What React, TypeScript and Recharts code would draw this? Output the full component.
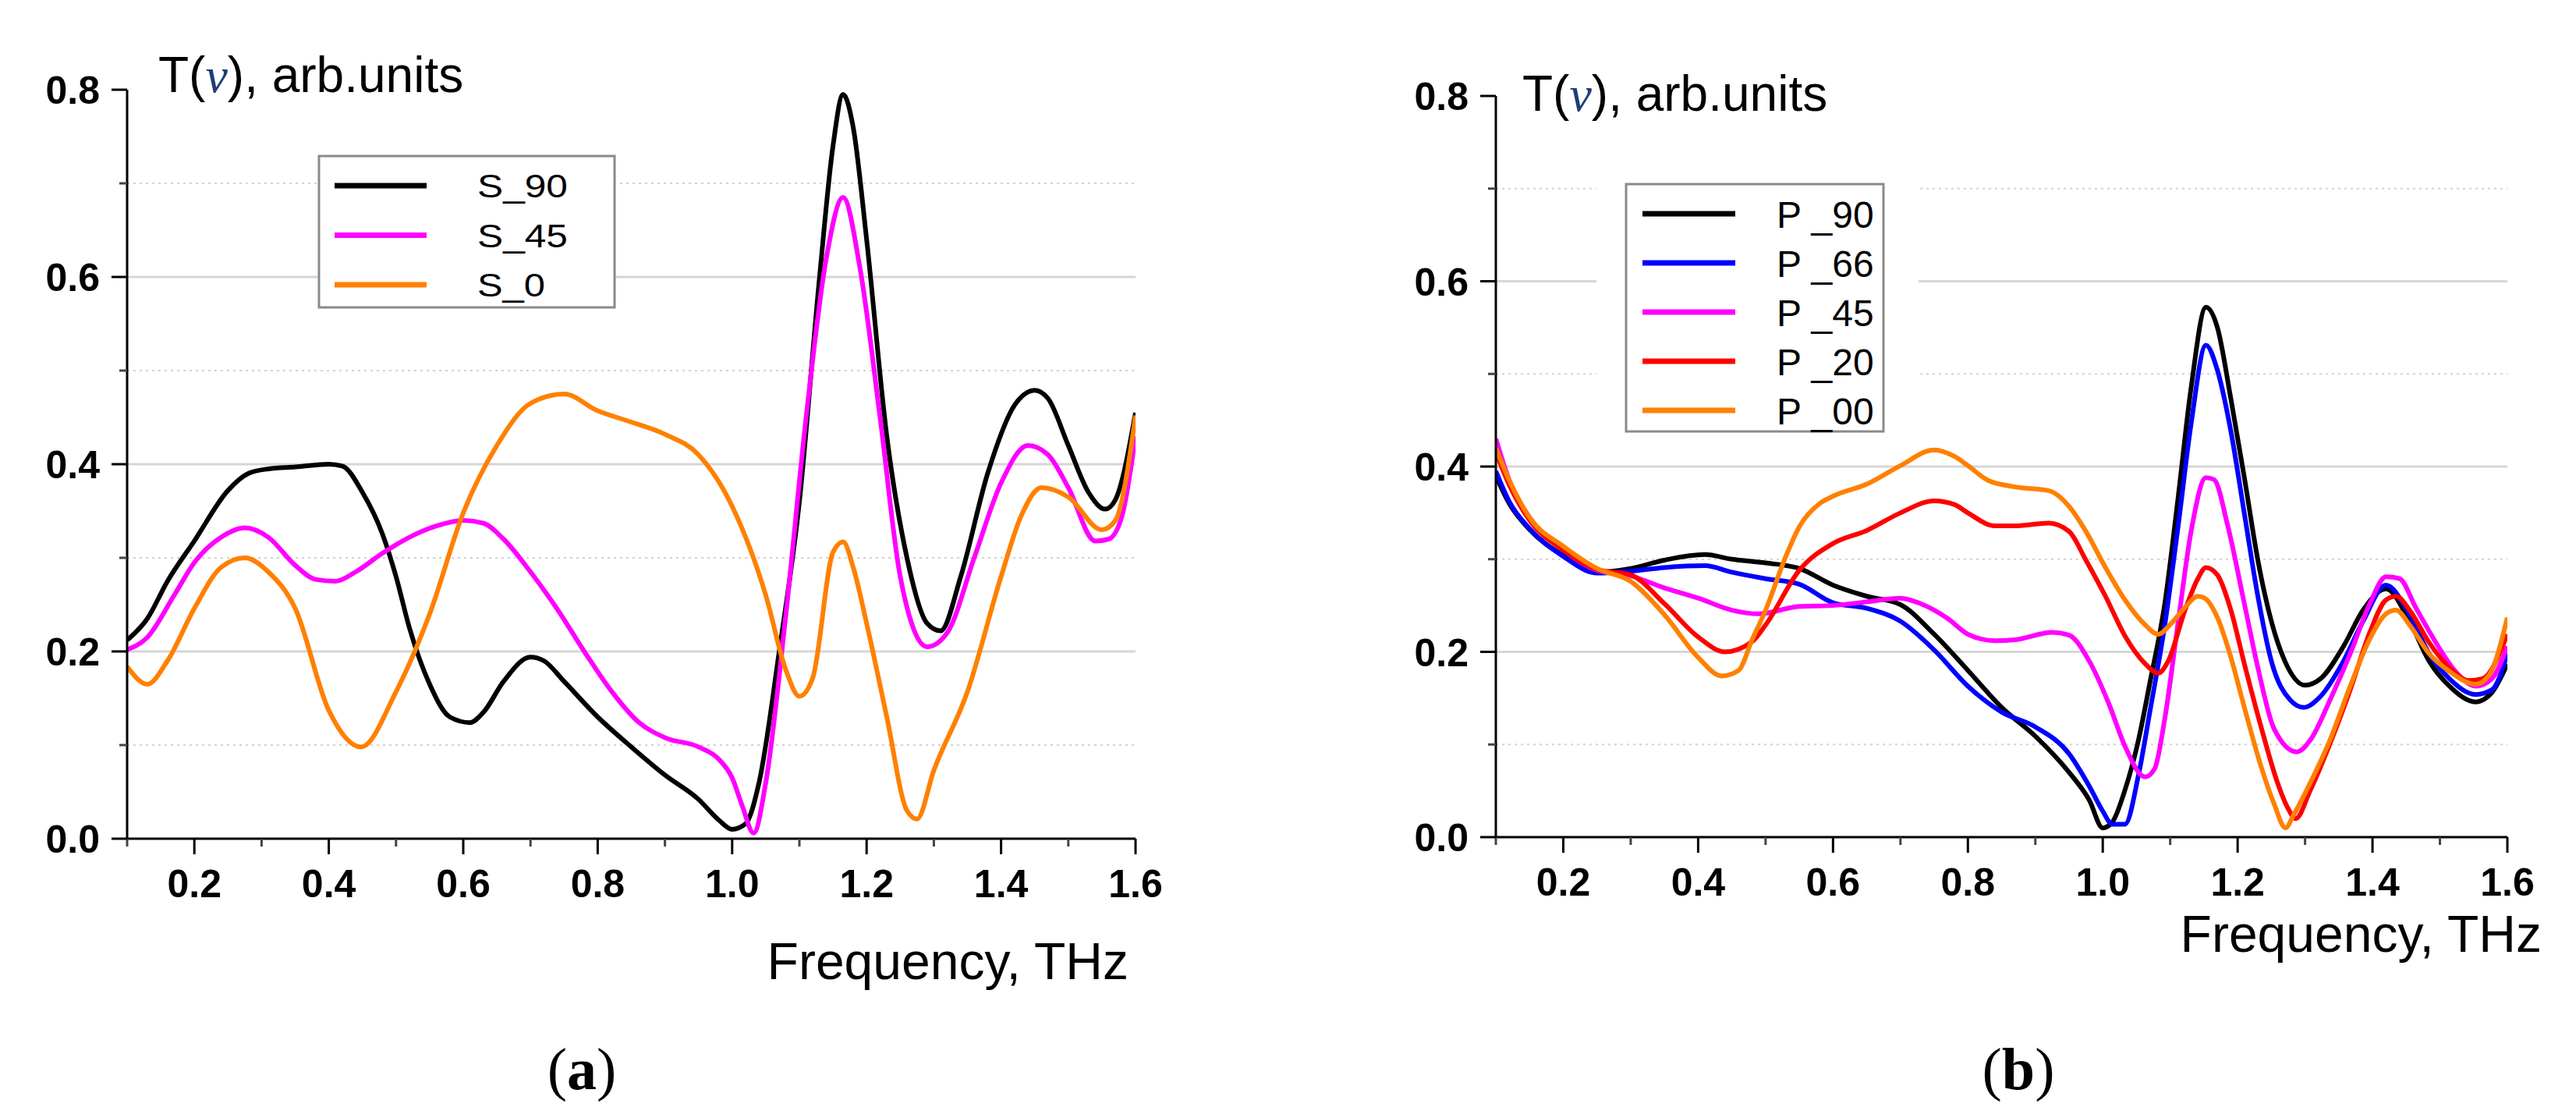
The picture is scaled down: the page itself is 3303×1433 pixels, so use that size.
import React from "react";
import { LineChart, Line, XAxis, YAxis, CartesianGrid } from "recharts";

// axis ticks (both panels)
const xTicks = [0.1, 0.2, 0.3, 0.4, 0.5, 0.6, 0.7, 0.8, 0.9, 1.0, 1.1, 1.2, 1.3, 1.4, 1.5, 1.6];
const yTicks = [0, 0.1, 0.2, 0.3, 0.4, 0.5, 0.6, 0.7, 0.8];
const majorGrid = [0.2, 0.4, 0.6];
const minorGrid = [0.1, 0.3, 0.5, 0.7];

// ---- panel (a): S polarisation ----
const s90F = [0.1, 0.13, 0.16, 0.2, 0.25, 0.28, 0.31, 0.35, 0.4, 0.42, 0.45, 0.48, 0.5, 0.52, 0.55, 0.58, 0.61, 0.63, 0.66, 0.7, 0.72, 0.75, 0.8, 0.85, 0.9, 0.95, 0.98, 1.0, 1.02, 1.04, 1.07, 1.1, 1.13, 1.15, 1.165, 1.18, 1.2, 1.23, 1.26, 1.29, 1.31, 1.34, 1.38, 1.42, 1.45, 1.47, 1.5, 1.53, 1.555, 1.57, 1.6];
const s90V = [0.212, 0.235, 0.275, 0.318, 0.372, 0.39, 0.395, 0.397, 0.4, 0.398, 0.37, 0.325, 0.28, 0.225, 0.165, 0.13, 0.124, 0.135, 0.168, 0.194, 0.19, 0.168, 0.13, 0.098, 0.068, 0.042, 0.02, 0.01, 0.016, 0.06, 0.2, 0.36, 0.6, 0.74, 0.795, 0.76, 0.64, 0.43, 0.3, 0.23, 0.222, 0.28, 0.39, 0.463, 0.479, 0.47, 0.42, 0.37, 0.352, 0.362, 0.455];

const s45F = [0.1, 0.13, 0.17, 0.2, 0.24, 0.275, 0.31, 0.35, 0.38, 0.41, 0.44, 0.48, 0.52, 0.56, 0.6, 0.63, 0.66, 0.7, 0.74, 0.78, 0.82, 0.86, 0.9, 0.95, 0.98, 1.0, 1.015, 1.032, 1.05, 1.08, 1.11, 1.14, 1.165, 1.19, 1.22, 1.25, 1.29, 1.32, 1.36, 1.4, 1.44, 1.47, 1.5, 1.54, 1.56, 1.58, 1.6];
const s45V = [0.202, 0.215, 0.26, 0.295, 0.322, 0.332, 0.322, 0.292, 0.277, 0.275, 0.285, 0.305, 0.322, 0.334, 0.34, 0.337, 0.32, 0.285, 0.245, 0.2, 0.158, 0.125, 0.108, 0.098, 0.085, 0.065, 0.035, 0.006, 0.06, 0.24, 0.45, 0.62, 0.685, 0.61, 0.45, 0.28, 0.205, 0.22, 0.3, 0.38, 0.42, 0.41, 0.375, 0.318, 0.32, 0.345, 0.43];

const s0F = [0.1, 0.13, 0.16, 0.2, 0.24, 0.275, 0.31, 0.35, 0.4, 0.448, 0.5, 0.55, 0.6, 0.65, 0.7, 0.75, 0.8, 0.85, 0.9, 0.95, 1.0, 1.05, 1.08, 1.1, 1.12, 1.15, 1.165, 1.18, 1.2, 1.23, 1.26, 1.275, 1.3, 1.35, 1.4, 1.43, 1.46, 1.5, 1.55, 1.57, 1.6];
const s0V = [0.184, 0.165, 0.19, 0.246, 0.29, 0.3, 0.285, 0.246, 0.137, 0.098, 0.157, 0.24, 0.348, 0.42, 0.465, 0.475, 0.457, 0.445, 0.432, 0.41, 0.355, 0.26, 0.18, 0.152, 0.172, 0.306, 0.317, 0.29, 0.23, 0.13, 0.03, 0.021, 0.073, 0.157, 0.28, 0.345, 0.375, 0.365, 0.33, 0.34, 0.452];

// ---- panel (b): P polarisation ----
const p90F = [0.1, 0.12, 0.15, 0.2, 0.25, 0.3, 0.35, 0.41, 0.45, 0.5, 0.55, 0.6, 0.65, 0.7, 0.75, 0.8, 0.85, 0.9, 0.95, 0.98, 1.0, 1.014, 1.033, 1.053, 1.07, 1.092, 1.112, 1.131, 1.153, 1.17, 1.19, 1.21, 1.23, 1.25, 1.27, 1.3, 1.323, 1.357, 1.386, 1.42, 1.455, 1.484, 1.514, 1.553, 1.577, 1.6];
const p90V = [0.39, 0.36, 0.332, 0.304, 0.286, 0.29, 0.299, 0.305, 0.3, 0.296, 0.29, 0.272, 0.26, 0.251, 0.219, 0.18, 0.14, 0.109, 0.07, 0.04, 0.01, 0.016, 0.051, 0.105, 0.167, 0.252, 0.368, 0.485, 0.572, 0.55, 0.473, 0.388, 0.299, 0.233, 0.19, 0.164, 0.171, 0.206, 0.245, 0.268, 0.233, 0.19, 0.163, 0.146, 0.156, 0.187];

const p66F = [0.1, 0.12, 0.15, 0.2, 0.25, 0.3, 0.35, 0.41, 0.45, 0.5, 0.55, 0.6, 0.65, 0.7, 0.75, 0.8, 0.85, 0.9, 0.95, 0.98, 1.0, 1.014, 1.033, 1.053, 1.07, 1.092, 1.112, 1.131, 1.153, 1.17, 1.19, 1.21, 1.23, 1.25, 1.278, 1.298, 1.323, 1.357, 1.386, 1.42, 1.455, 1.484, 1.514, 1.553, 1.577, 1.6];
const p66V = [0.395, 0.362, 0.333, 0.303, 0.285, 0.287, 0.291, 0.293, 0.286, 0.279, 0.273, 0.253, 0.247, 0.233, 0.202, 0.163, 0.135, 0.119, 0.09, 0.055, 0.028, 0.014, 0.014, 0.067, 0.136, 0.229, 0.337, 0.446, 0.531, 0.504, 0.438, 0.349, 0.26, 0.19, 0.148, 0.14, 0.152, 0.19, 0.233, 0.272, 0.24, 0.198, 0.171, 0.154, 0.159, 0.198];

const p45F = [0.1, 0.12, 0.15, 0.2, 0.25, 0.3, 0.35, 0.4, 0.45, 0.49, 0.55, 0.6, 0.65, 0.7, 0.73, 0.77, 0.8, 0.84, 0.87, 0.925, 0.95, 0.98, 1.009, 1.033, 1.063, 1.077, 1.092, 1.112, 1.131, 1.153, 1.165, 1.185, 1.21, 1.23, 1.254, 1.288, 1.308, 1.337, 1.367, 1.396, 1.42, 1.44, 1.464, 1.494, 1.523, 1.553, 1.577, 1.6];
const p45V = [0.43, 0.385, 0.345, 0.31, 0.288, 0.282, 0.269, 0.258, 0.245, 0.241, 0.249, 0.25, 0.254, 0.258, 0.252, 0.236, 0.219, 0.212, 0.213, 0.221, 0.218, 0.19, 0.144, 0.098, 0.065, 0.074, 0.128, 0.233, 0.33, 0.388, 0.386, 0.337, 0.252, 0.183, 0.117, 0.092, 0.105, 0.148, 0.198, 0.252, 0.281, 0.279, 0.248, 0.21, 0.179, 0.163, 0.171, 0.206];

const p20F = [0.1, 0.12, 0.15, 0.2, 0.25, 0.3, 0.35, 0.4, 0.44, 0.48, 0.5, 0.55, 0.6, 0.65, 0.7, 0.75, 0.78, 0.8, 0.84, 0.87, 0.92, 0.95, 0.975, 1.004, 1.033, 1.063, 1.082, 1.097, 1.122, 1.141, 1.153, 1.17, 1.19, 1.21, 1.234, 1.259, 1.274, 1.286, 1.308, 1.337, 1.367, 1.396, 1.42, 1.435, 1.455, 1.484, 1.514, 1.543, 1.563, 1.6];
const p20V = [0.415, 0.38, 0.342, 0.31, 0.289, 0.283, 0.252, 0.216, 0.2, 0.211, 0.229, 0.288, 0.317, 0.331, 0.35, 0.363, 0.359, 0.35, 0.336, 0.336, 0.339, 0.33, 0.299, 0.26, 0.217, 0.187, 0.177, 0.19, 0.245, 0.279, 0.291, 0.283, 0.245, 0.187, 0.121, 0.059, 0.032, 0.02, 0.051, 0.101, 0.159, 0.221, 0.256, 0.26, 0.245, 0.21, 0.183, 0.169, 0.171, 0.219];

const p00F = [0.1, 0.12, 0.15, 0.2, 0.25, 0.3, 0.35, 0.4, 0.435, 0.46, 0.48, 0.5, 0.53, 0.55, 0.58, 0.6, 0.65, 0.7, 0.75, 0.78, 0.8, 0.83, 0.87, 0.92, 0.95, 0.975, 1.004, 1.033, 1.063, 1.082, 1.102, 1.122, 1.141, 1.151, 1.17, 1.19, 1.21, 1.234, 1.254, 1.271, 1.283, 1.308, 1.337, 1.367, 1.396, 1.42, 1.435, 1.455, 1.484, 1.514, 1.553, 1.573, 1.6];
const p00V = [0.42, 0.385, 0.345, 0.314, 0.29, 0.276, 0.24, 0.194, 0.174, 0.18, 0.213, 0.245, 0.303, 0.335, 0.36, 0.368, 0.381, 0.401, 0.418, 0.411, 0.401, 0.385, 0.378, 0.374, 0.357, 0.33, 0.291, 0.256, 0.229, 0.219, 0.231, 0.248, 0.26, 0.258, 0.237, 0.194, 0.14, 0.078, 0.036, 0.01, 0.024, 0.059, 0.105, 0.163, 0.214, 0.241, 0.245, 0.229, 0.198, 0.179, 0.165, 0.175, 0.237];

const sNames = ["S_90", "S_45", "S_0"];
const sColors = ["#000000", "#ff00ff", "#ff8000"];
const pNames = ["P _90", "P _66", "P _45", "P _20", "P _00"];
const pColors = ["#000000", "#0000ff", "#ff00ff", "#ff0000", "#ff8000"];

const toPoints = (f: number[], v: number[]) => f.map((x, i) => ({ f: x, v: v[i] }));

const sSeries = [toPoints(s90F, s90V), toPoints(s45F, s45V), toPoints(s0F, s0V)];
const pSeries = [
  toPoints(p90F, p90V),
  toPoints(p66F, p66V),
  toPoints(p45F, p45V),
  toPoints(p20F, p20V),
  toPoints(p00F, p00V),
];

const SANS = "'Liberation Sans', Arial, sans-serif";
const SERIF = "'Liberation Serif', 'Times New Roman', serif";

const isMajor = (v: number) => Math.round(v * 10) % 2 === 0;

function XTick(props: any) {
  const { x, y, payload } = props;
  const major = isMajor(payload.value);
  return (
    <g>
      <line x1={x} x2={x} y1={y} y2={y + (major ? 20 : 10)} stroke={major ? "#000" : "#444"} strokeWidth={3} />
      {major && (
        <text x={x} y={y + 75} textAnchor="middle" fontSize={50} fontWeight="bold" fontFamily={SANS} fill="#000">
          {payload.value.toFixed(1)}
        </text>
      )}
    </g>
  );
}

function YTick(props: any) {
  const { x, y, payload } = props;
  const major = isMajor(payload.value);
  return (
    <g>
      <line x1={x - (major ? 20 : 10)} x2={x} y1={y} y2={y} stroke={major ? "#000" : "#444"} strokeWidth={3} />
      {major && (
        <text x={x - 35} y={y + 18} textAnchor="end" fontSize={50} fontWeight="bold" fontFamily={SANS} fill="#000">
          {payload.value.toFixed(1)}
        </text>
      )}
    </g>
  );
}

function Panel({ width, margin, series, colors }: { width: number; margin: any; series: any[]; colors: string[] }) {
  return (
    <LineChart width={width} height={1433} margin={margin}>
      <CartesianGrid vertical={false} horizontalValues={majorGrid} stroke="#d6d6d6" strokeWidth={3} />
      <CartesianGrid vertical={false} horizontalValues={minorGrid} stroke="#d2d2d2" strokeWidth={2} strokeDasharray="3 5" />
      <XAxis
        type="number"
        dataKey="f"
        domain={[0.1, 1.6]}
        ticks={xTicks}
        interval={0}
        allowDataOverflow
        height={80}
        tickSize={0}
        tickMargin={0}
        tickLine={false}
        axisLine={{ stroke: "#000", strokeWidth: 3 }}
        tick={<XTick />}
      />
      <YAxis
        type="number"
        domain={[0, 0.8]}
        ticks={yTicks}
        interval={0}
        allowDataOverflow
        width={90}
        tickSize={0}
        tickMargin={0}
        tickLine={false}
        axisLine={{ stroke: "#000", strokeWidth: 3 }}
        tick={<YTick />}
      />
      {series.map((pts, i) => (
        <Line
          key={i}
          data={pts}
          dataKey="v"
          type="monotone"
          stroke={colors[i]}
          strokeWidth={6}
          dot={false}
          isAnimationActive={false}
        />
      ))}
    </LineChart>
  );
}

function Title({ x, y }: { x: number; y: number }) {
  return (
    <text x={x} y={y} fontSize={64} fontFamily={SANS} fill="#000">
      T(
      <tspan fontFamily={SERIF} fontStyle="italic" fill="#1d3d78">
        ν
      </tspan>
      ), arb.units
    </text>
  );
}

export default function App() {
  return (
    <div style={{ position: "absolute", left: 0, top: 0, width: 3303, height: 1433, background: "#fff" }}>
      <div style={{ position: "absolute", left: 0, top: 0 }}>
        <Panel width={1650} margin={{ top: 115, right: 194, left: 73, bottom: 278 }} series={sSeries} colors={sColors} />
      </div>
      <div style={{ position: "absolute", left: 1650, top: 0 }}>
        <Panel width={1653} margin={{ top: 123, right: 88, left: 178, bottom: 280 }} series={pSeries} colors={pColors} />
      </div>
      <svg
        width={3303}
        height={1433}
        style={{ position: "absolute", left: 0, top: 0, pointerEvents: "none" }}
      >
        {/* panel (a) texts */}
        <Title x={203} y={118} />
        <text x={1447} y={1255} textAnchor="end" fontSize={66} fontFamily={SANS} fill="#000">
          Frequency, THz
        </text>
        <text x={746} y={1396} textAnchor="middle" fontSize={76} fontFamily={SERIF} fill="#000">
          (<tspan fontWeight="bold">a</tspan>)
        </text>
        <rect x={409} y={200} width={379} height={194} fill="#fff" stroke="#8a8a8a" strokeWidth={3} />
        {sNames.map((n, i) => (
          <g key={n}>
            <line x1={429} x2={547} y1={238 + i * 63.5} y2={238 + i * 63.5} stroke={sColors[i]} strokeWidth={7} />
            <text
              x={612}
              y={238 + i * 63.5 + 15}
              fontSize={42}
              fontFamily={SANS}
              fill="#000"
              textLength={n.length * 29}
              lengthAdjust="spacingAndGlyphs"
            >
              {n}
            </text>
          </g>
        ))}

        {/* panel (b) texts */}
        <Title x={1952} y={142} />
        <text x={3259} y={1220} textAnchor="end" fontSize={66} fontFamily={SANS} fill="#000">
          Frequency, THz
        </text>
        <text x={2588} y={1396} textAnchor="middle" fontSize={76} fontFamily={SERIF} fill="#000">
          (<tspan fontWeight="bold">b</tspan>)
        </text>
        <rect x={2047} y={228} width={413} height={334} fill="#fff" />
        <rect x={2085} y={236} width={330} height={317} fill="#fff" stroke="#8a8a8a" strokeWidth={3} />
        {pNames.map((n, i) => (
          <g key={n}>
            <line x1={2106} x2={2225} y1={274 + i * 63} y2={274 + i * 63} stroke={pColors[i]} strokeWidth={7} />
            <text x={2278} y={274 + i * 63 + 18} fontSize={48} fontFamily={SANS} fill="#000">
              {n}
            </text>
          </g>
        ))}
      </svg>
    </div>
  );
}
